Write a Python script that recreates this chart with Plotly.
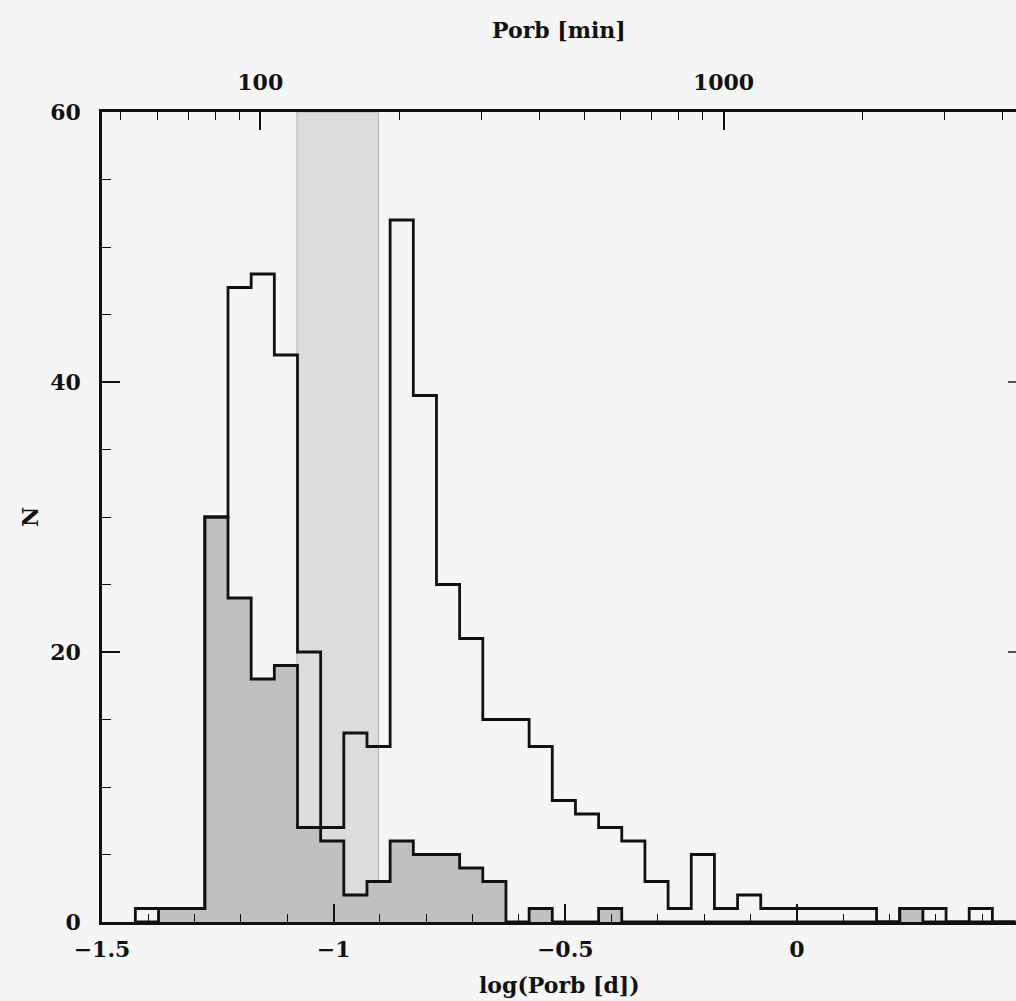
import numpy as np
import plotly.graph_objects as go

# ---- data ----
BIN_START = -1.428          # left edge of first bin, log(Porb [d])
BIN_WIDTH = 0.05
counts_all = [1, 1, 1, 30, 47, 48, 42, 20, 7, 14, 13, 52, 39, 25, 21, 15, 15, 13, 9, 8,
              7, 6, 3, 1, 5, 1, 2, 1, 1, 1, 1, 1, 0, 1, 1, 0, 1, 0]
counts_sub = [0, 1, 1, 30, 24, 18, 19, 7, 6, 2, 3, 6, 5, 5, 4, 3, 0, 1, 0, 0,
              1, 0, 0, 0, 0, 0, 0, 0, 0, 0, 0, 0, 0, 1, 0, 0, 0, 0]
gap_hours = [2.0, 3.0]
x_ticks = [-1.5, -1.0, -0.5, 0.0]
x_tick_text = ["\u22121.5", "\u22121", "\u22120.5", "0"]
y_ticks = [0, 20, 40, 60]
top_ticks = [100, 1000]
top_minor = [50, 60, 70, 80, 90, 200, 300, 400, 500, 600, 700, 800, 900, 2000, 3000, 4000]
X_RANGE = [-1.5, 0.473]
MIN_PER_DAY = 1440.0

BG = "#f5f5f5"
INK = "#111111"
FONT = "DejaVu Serif"


def step_xy(counts):
    edges = [BIN_START + k * BIN_WIDTH for k in range(len(counts) + 1)]
    xs = [edges[0]] + edges[:-1] + [edges[-1], edges[-1]]
    ys = [0] + list(counts) + [counts[-1], 0]
    return xs, ys


fig = go.Figure()

xa, ya = step_xy(counts_sub)
fig.add_trace(go.Scatter(x=xa, y=ya, mode="lines", line=dict(shape="hv", color=INK, width=2.8),
                         fill="tozeroy", fillcolor="#c0c0c0", hoverinfo="skip", showlegend=False))
xb, yb = step_xy(counts_all)
fig.add_trace(go.Scatter(x=xb, y=yb, mode="lines", line=dict(shape="hv", color=INK, width=2.8),
                         hoverinfo="skip", showlegend=False))
# invisible trace to carry the top (minutes) axis
fig.add_trace(go.Scatter(x=[10 ** (X_RANGE[0] + np.log10(MIN_PER_DAY))], y=[0], xaxis="x2",
                         mode="markers", marker=dict(opacity=0), hoverinfo="skip", showlegend=False))
# invisible trace for right-side ticks
fig.add_trace(go.Scatter(x=[X_RANGE[0]], y=[0], yaxis="y2",
                         mode="markers", marker=dict(opacity=0), hoverinfo="skip", showlegend=False))

# period gap band
fig.add_shape(type="rect", xref="x", yref="paper",
              x0=np.log10(gap_hours[0] / 24), x1=np.log10(gap_hours[1] / 24), y0=0, y1=1,
              fillcolor="#dcdcdc", line=dict(color="#b4b4b4", width=1), layer="below")

tickfont = dict(family=FONT, size=22, color=INK, weight="bold")
titlefont = dict(family=FONT, size=22, color=INK, weight="bold")

fig.update_layout(
    width=1016, height=1001,
    margin=dict(l=102, r=0, t=112, b=79, pad=0),
    paper_bgcolor=BG, plot_bgcolor=BG,
    showlegend=False,
    xaxis=dict(range=X_RANGE, tickvals=x_ticks, ticktext=x_tick_text, ticks="inside",
               ticklen=18, tickwidth=1.6, tickcolor=INK, showline=True, linecolor=INK, linewidth=2.5,
               showgrid=False, zeroline=False, tickfont=tickfont, ticklabelstandoff=6,
               minor=dict(dtick=0.1, tick0=0, ticks="inside", ticklen=8, tickwidth=1.4,
                          tickcolor=INK, showgrid=False)),
    xaxis2=dict(type="log", overlaying="x", side="top", anchor="y",
                range=[X_RANGE[0] + np.log10(MIN_PER_DAY), X_RANGE[1] + np.log10(MIN_PER_DAY)],
                tickvals=top_ticks, ticktext=["100", "1000"], ticks="inside", ticklen=18,
                tickwidth=1.6, tickcolor=INK, showline=True, linecolor=INK, linewidth=2.5,
                showgrid=False, zeroline=False, tickfont=tickfont, ticklabelstandoff=10,
                minor=dict(tickvals=top_minor, ticks="inside", ticklen=8, tickwidth=1.4,
                           tickcolor=INK, showgrid=False)),
    yaxis=dict(range=[0, 60], tickvals=y_ticks, ticks="inside", ticklen=18, tickwidth=1.6,
               tickcolor=INK, showline=True, linecolor=INK, linewidth=2.5, showgrid=False,
               zeroline=False, tickfont=tickfont, ticklabelstandoff=14,
               minor=dict(dtick=5, tick0=0, ticks="inside", ticklen=9, tickwidth=1.4,
                          tickcolor=INK, showgrid=False)),
    yaxis2=dict(range=[0, 60], overlaying="y", side="right", anchor="x", tickvals=[20, 40],
                ticks="inside", ticklen=8, tickwidth=1.6, tickcolor="#555", showline=False,
                showticklabels=False, showgrid=False, zeroline=False),
    annotations=[
        dict(text="log(Porb [d])", xref="paper", yref="paper", x=0.5, y=0, yshift=-63,
             showarrow=False, xanchor="center", yanchor="middle", font=titlefont),
        dict(text="Porb [min]", xref="paper", yref="paper", x=0.5, y=1, yshift=82,
             showarrow=False, xanchor="center", yanchor="middle", font=titlefont),
        dict(text="N", xref="paper", yref="paper", x=0, y=0.5, xshift=-72, textangle=-90,
             showarrow=False, xanchor="center", yanchor="middle", font=titlefont),
    ],
)

fig.write_html("out.html")
